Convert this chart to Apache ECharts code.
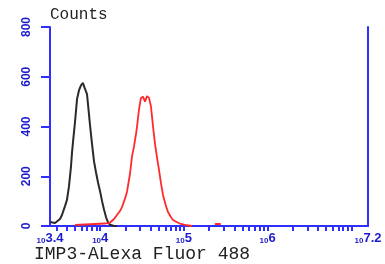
<!DOCTYPE html>
<html>
<head>
<meta charset="utf-8">
<script src="https://cdn.jsdelivr.net/npm/echarts@6/dist/echarts.min.js"></script>
<style>
  html, body { margin: 0; padding: 0; background: #fff; }
  #chart { width: 385px; height: 264px; }
</style>
</head>
<body>
<div id="chart"></div>
<script>
// x values are log10(intensity), y values are counts
const blackX = [3.4, 3.46, 3.52, 3.543, 3.579, 3.603, 3.627, 3.651, 3.663, 3.675, 3.699, 3.723, 3.746, 3.77, 3.794, 3.806, 3.818, 3.842, 3.854, 3.878, 3.902, 3.926, 3.95, 3.974, 3.998, 4.022, 4.046, 4.07, 4.094, 4.118, 4.165, 4.2];
const blackY = [16, 12, 28, 44, 80, 105, 160, 240, 295, 338, 418, 510, 545, 565, 575, 562, 570, 530, 490, 406, 330, 260, 215, 175, 140, 100, 65, 35, 15, 5, 0, 0];

const redX = [3.699, 3.818, 3.938, 4.058, 4.118, 4.165, 4.2, 4.236, 4.26, 4.296, 4.32, 4.356, 4.38, 4.404, 4.428, 4.44, 4.464, 4.487, 4.511, 4.535, 4.559, 4.583, 4.607, 4.631, 4.655, 4.679, 4.703, 4.727, 4.75, 4.786, 4.81, 4.846, 4.87, 4.918, 4.953, 5.0, 5.037, 5.097, 5.2, 5.37, 5.44];
const redY = [4, 6, 8, 10, 14, 28, 44, 60, 76, 110, 137, 210, 280, 320, 370, 400, 470, 515, 520, 500, 522, 515, 480, 400, 330, 275, 225, 170, 125, 80, 56, 35, 24, 15, 10, 6, 3, 0, null, 8, 8];

const xLabelVals = [3.4, 4, 5, 6, 7.2];
const xLabelExp = ['3.4', '4', '5', '6', '7.2'];

const blue = '#2f2fff';
const labelBlue = '#1c1ccc';

// log minor tick positions (k * 10^d)
let tickVals = [];
for (let d = 3; d <= 7; d++) {
  for (let k = 1; k <= 9; k++) {
    let v = d + Math.log10(k);
    if (v >= 3.4 && v <= 7.2) tickVals.push(v);
  }
}

function pairs(xs, ys) {
  return xs.map((x, i) => [x, ys[i]]);
}

let chart = echarts.init(document.getElementById('chart'));
chart.setOption({
  animation: false,
  backgroundColor: '#fff',
  title: [
    {
      text: 'Counts', left: 50, top: 7, padding: 0,
      textStyle: { fontFamily: 'Liberation Mono', fontSize: 16, fontWeight: 'normal', color: '#222' }
    },
    {
      text: 'IMP3-ALexa Fluor 488', left: 34, top: 245, padding: 0,
      textStyle: { fontFamily: 'Liberation Mono', fontSize: 18, fontWeight: 'normal', color: '#222' }
    }
  ],
  grid: { left: 50, top: 27, right: 17, bottom: 38 },
  xAxis: [
    {
      type: 'value', min: 3.4, max: 7.2,
      axisLine: { show: true, lineStyle: { color: blue, width: 2 } },
      axisTick: { show: true, length: 5, customValues: tickVals, lineStyle: { color: blue, width: 2 } },
      splitLine: { show: false },
      axisLabel: {
        customValues: xLabelVals,
        margin: 6,
        formatter: function (v) {
          let i = xLabelVals.findIndex(x => Math.abs(x - v) < 1e-6);
          return '{b|10}{e|' + xLabelExp[i] + '}';
        },
        rich: {
          b: { fontSize: 8, fontWeight: 'bold', color: labelBlue, fontFamily: 'Liberation Sans', verticalAlign: 'bottom' },
          e: { fontSize: 13, fontWeight: 'bold', color: labelBlue, fontFamily: 'Liberation Sans', verticalAlign: 'bottom' }
        }
      }
    },
    {
      type: 'value', min: 3.4, max: 7.2, position: 'top',
      axisLine: { show: true, lineStyle: { color: blue, width: 2 } },
      axisTick: { show: false }, axisLabel: { show: false }, splitLine: { show: false }
    }
  ],
  yAxis: [
    {
      type: 'value', min: 0, max: 800, interval: 200,
      axisLine: { show: true, lineStyle: { color: blue, width: 2 } },
      axisTick: { show: true, length: 9, lineStyle: { color: blue, width: 2 } },
      splitLine: { show: false },
      axisLabel: {
        rotate: 90, margin: 17, color: labelBlue,
        fontFamily: 'Liberation Sans', fontWeight: 'bold', fontSize: 12
      }
    },
    {
      type: 'value', min: 0, max: 800, position: 'right',
      axisLine: { show: true, lineStyle: { color: blue, width: 2 } },
      axisTick: { show: false }, axisLabel: { show: false }, splitLine: { show: false }
    }
  ],
  series: [
    {
      type: 'line', symbol: 'none',
      data: pairs(blackX, blackY),
      lineStyle: { color: '#2a2a2a', width: 2 }
    },
    {
      type: 'line', symbol: 'none', connectNulls: false,
      data: pairs(redX, redY),
      lineStyle: { color: '#ff2a2a', width: 1.8 }
    }
  ]
});
</script>
</body>
</html>
